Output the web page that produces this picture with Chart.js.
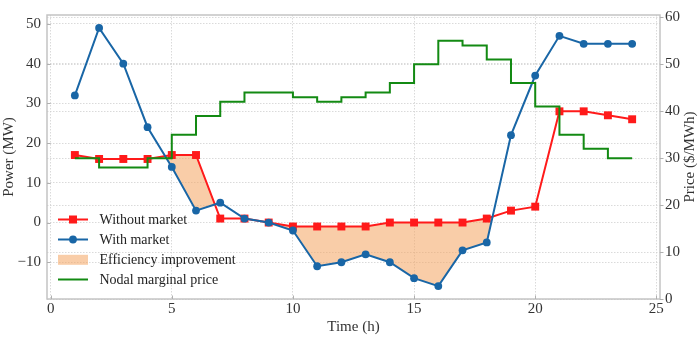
<!DOCTYPE html>
<html><head><meta charset="utf-8">
<script src="https://cdn.jsdelivr.net/npm/chart.js@4.4.0/dist/chart.umd.min.js"></script>
<style>html,body{margin:0;padding:0;background:#fff}#wrap{width:699px;height:338px}</style>
</head><body><div id="wrap"><canvas id="c" width="699" height="338"></canvas></div>
<script>
const hours = [1,2,3,4,5,6,7,8,9,10,11,12,13,14,15,16,17,18,19,20,21,22,23,24];
const withoutMarket = [17,16,16,16,17,17,1,1,0,-1,-1,-1,-1,0,0,0,0,1,3,4,28,28,27,26];
const withMarket = [32,49,40,24,14,3,5,1,0,-2,-11,-10,-8,-10,-14,-16,-7,-5,22,37,47,45,45,45];
const nodalPrice = [30,28,28,30,35,39,42,44,44,43,42,43,44,46,50,55,54,51,46,41,35,32,30,30];
const xTicks = [0,5,10,15,20,25];
const powerTicks = [-10,0,10,20,30,40,50];
const priceTicks = [0,10,20,30,40,50,60];
const seriesNames = ['Without market','With market','Efficiency improvement','Nodal marginal price'];
const axisTitles = {x:'Time (h)', y:'Power (MW)', y1:'Price ($/MWh)'};

const RED = '#ff1a1a', BLUE = '#1966a6', GREEN = '#138a13', FILL = 'rgba(244,164,96,0.55)';
const FONT = "'Liberation Serif', 'Times New Roman', serif";
const TXT = '#333';
const GRID = '#d0d0d0';

const pts = arr => hours.map((h,i)=>({x:h,y:arr[i]}));

const setTicks = list => (scale => { scale.ticks = list.map(v=>({value:v})); });

const decor = {
  id:'decor',
  afterDraw(chart){
    const ctx = chart.ctx, a = chart.chartArea;
    const sx = chart.scales.x, sy = chart.scales.y, sy1 = chart.scales.y1;
    ctx.save();
    // frame
    ctx.strokeStyle = '#c4c4c4'; ctx.lineWidth = 1.5;
    ctx.strokeRect(a.left, a.top, a.right-a.left, a.bottom-a.top);
    // tick marks
    ctx.strokeStyle = '#b0b0b0'; ctx.lineWidth = 1;
    ctx.beginPath();
    xTicks.forEach(v=>{const x=Math.round(sx.getPixelForValue(v))+0.5; ctx.moveTo(x,a.bottom); ctx.lineTo(x,a.bottom-3.5);});
    powerTicks.forEach(v=>{const y=Math.round(sy.getPixelForValue(v))+0.5; ctx.moveTo(a.left,y); ctx.lineTo(a.left+3.5,y);});
    priceTicks.forEach(v=>{const y=Math.round(sy1.getPixelForValue(v))+0.5; ctx.moveTo(a.right,y); ctx.lineTo(a.right+3.5,y);});
    ctx.stroke();
    // right axis title (bottom-to-top)
    ctx.fillStyle = TXT; ctx.font = '15px ' + FONT;
    ctx.textAlign = 'center'; ctx.textBaseline = 'middle';
    ctx.translate(690, (a.top+a.bottom)/2);
    ctx.rotate(-Math.PI/2);
    ctx.fillText(axisTitles.y1, 0, 0);
    ctx.restore();

    // legend
    ctx.save();
    const x0 = 58, x1 = 88, tx = 99.5;
    const rows = [219.5, 239.5, 259.8, 279.5];
    ctx.lineWidth = 2;
    // row 1
    ctx.strokeStyle = RED; ctx.beginPath(); ctx.moveTo(x0,rows[0]); ctx.lineTo(x1,rows[0]); ctx.stroke();
    ctx.fillStyle = RED; ctx.fillRect(73-4, rows[0]-4, 8, 8);
    // row 2
    ctx.strokeStyle = BLUE; ctx.beginPath(); ctx.moveTo(x0,rows[1]); ctx.lineTo(x1,rows[1]); ctx.stroke();
    ctx.fillStyle = BLUE; ctx.beginPath(); ctx.arc(73, rows[1], 3.9, 0, Math.PI*2); ctx.fill();
    // row 3
    ctx.fillStyle = FILL; ctx.fillRect(x0, rows[2]-5, x1-x0, 10);
    // row 4
    ctx.strokeStyle = GREEN; ctx.beginPath(); ctx.moveTo(x0,rows[3]); ctx.lineTo(x1,rows[3]); ctx.stroke();
    ctx.fillStyle = '#222'; ctx.font = '14px ' + FONT;
    ctx.textAlign = 'left'; ctx.textBaseline = 'middle';
    seriesNames.forEach((n,i)=>ctx.fillText(n, tx, rows[i]+0.5));
    ctx.restore();
  }
};

new Chart(document.getElementById('c'), {
  type:'line',
  data:{datasets:[
    {label:seriesNames[0], data:pts(withoutMarket), yAxisID:'y', order:3,
     borderColor:RED, backgroundColor:RED, borderWidth:2, pointStyle:'rect', pointRadius:5.6,
     pointBorderWidth:0, pointBackgroundColor:RED,
     fill:{target:1, above:FILL, below:'rgba(0,0,0,0)'}},
    {label:seriesNames[1], data:pts(withMarket), yAxisID:'y', order:2,
     borderColor:BLUE, backgroundColor:BLUE, borderWidth:2, pointStyle:'circle', pointRadius:3.9,
     pointBorderWidth:0, pointBackgroundColor:BLUE, fill:false},
    {label:seriesNames[3], data:pts(nodalPrice), yAxisID:'y1', order:1,
     borderColor:GREEN, borderWidth:2, pointRadius:0, stepped:'before', fill:false}
  ]},
  options:{
    responsive:false, animation:false,
    layout:{padding:{top:5,left:0,right:0,bottom:0}},
    plugins:{legend:{display:false}, tooltip:{enabled:false}},
    scales:{
      x:{type:'linear', min:-0.15, max:25.15, afterBuildTicks:setTicks(xTicks),
         afterFit:s=>{s.height=39;},
         grid:{color:GRID, lineWidth:0.8, drawTicks:false}, border:{display:false, dash:[1.5,1.5]},
         ticks:{font:{family:FONT,size:15}, color:TXT, padding:1, maxRotation:0},
         title:{display:true, text:axisTitles.x, font:{family:FONT,size:15}, color:TXT, padding:{top:0,bottom:2}}},
      y:{position:'left', min:-19.25, max:52.25, afterBuildTicks:setTicks(powerTicks),
         afterFit:s=>{s.width=47;},
         grid:{color:GRID, lineWidth:0.8, drawTicks:false}, border:{display:false, dash:[1.5,1.5]},
         ticks:{font:{family:FONT,size:15}, color:TXT, padding:6, callback:v=>v<0?'\u2212'+Math.abs(v):String(v)},
         title:{display:true, text:axisTitles.y, font:{family:FONT,size:15}, color:TXT, padding:{top:0,bottom:0}}},
      y1:{position:'right', min:0, max:60.5, afterBuildTicks:setTicks(priceTicks),
         afterFit:s=>{s.width=39;},
         grid:{color:GRID, lineWidth:0.8, drawTicks:false, drawOnChartArea:true}, border:{display:false, dash:[1.5,1.5]},
         ticks:{font:{family:FONT,size:15}, color:TXT, padding:5},
         title:{display:false}}
    }
  },
  plugins:[decor]
});
</script></body></html>
